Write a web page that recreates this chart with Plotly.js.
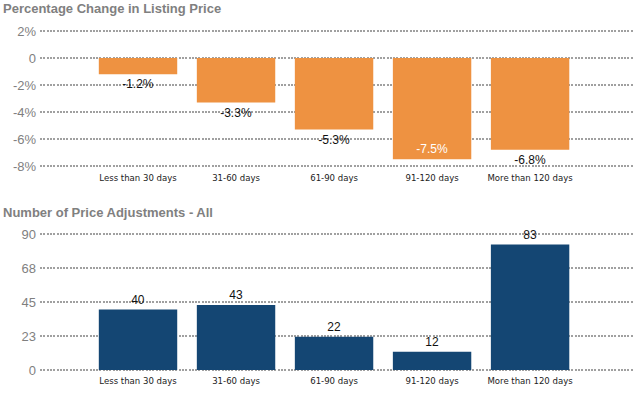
<!DOCTYPE html>
<html><head><meta charset="utf-8">
<script src="https://cdn.plot.ly/plotly-3.0.1.min.js"></script>
<style>html,body{margin:0;padding:0;background:#fff}#c{width:633px;height:400px}</style>
</head><body><div id="c"></div>
<script>
const categories = ["Less than 30 days","31-60 days","61-90 days","91-120 days","More than 120 days"];
const pctChange = [-1.2, -3.3, -5.3, -7.5, -6.8];
const pctLabels = ["-1.2%","-3.3%","-5.3%","-7.5%","-6.8%"];
const adjustments = [40, 43, 22, 12, 83];
const pctTickVals = [2, 0, -2, -4, -6, -8];
const pctTickText = ["2%","0","-2%","-4%","-6%","-8%"];
const cntTickVals = [0, 22.5, 45, 67.5, 90];
const cntTickText = ["0","23","45","68","90"];

const idx = categories.map((c,i)=>i);
const grid = {showgrid:true, gridcolor:'#a0a0a0', griddash:'2px,1.3px', gridwidth:1.5, zeroline:false, showline:false, ticks:'', tickfont:{family:'Liberation Sans, Arial', size:13, color:'#7f7f7f'}};
const xcommon = {tickmode:'array', tickvals:idx, ticktext:categories, range:[-1, 5.05], showgrid:false, zeroline:false, showline:false, ticks:'', tickfont:{family:'DejaVu Sans Condensed, DejaVu Sans', size:9.5, color:'#222'}, fixedrange:true};

const trace1 = {type:'bar', x:idx, y:pctChange, text:pctLabels, texttemplate:'%{text}',
  textposition:['outside','outside','outside','inside','outside'],
  insidetextanchor:'end',
  textfont:{family:'Liberation Sans, Arial', size:12, color:['#111','#111','#111','#fff','#111']},
  marker:{color:'#EE9241'}, cliponaxis:false, xaxis:'x', yaxis:'y', hoverinfo:'none'};
const trace2 = {type:'bar', x:idx, y:adjustments, text:adjustments.map(String), texttemplate:'%{text}',
  textposition:'outside', textfont:{family:'Liberation Sans, Arial', size:12, color:'#111'},
  marker:{color:'#144673'}, cliponaxis:false, xaxis:'x2', yaxis:'y2', hoverinfo:'none'};

const layout = {
  width:633, height:400, margin:{l:40, r:0, t:0, b:0}, paper_bgcolor:'#fff', plot_bgcolor:'rgba(0,0,0,0)',
  showlegend:false, bargap:0.2,
  xaxis:Object.assign({}, xcommon, {anchor:'y', domain:[0,1], ticklabelstandoff:0}),
  yaxis:Object.assign({}, grid, {anchor:'x', domain:[0.5749, 0.9326], range:[-8.3, 2.3], tickmode:'array', tickvals:pctTickVals, ticktext:pctTickText, ticklabelstandoff:3}),
  xaxis2:Object.assign({}, xcommon, {anchor:'y2', domain:[0,1], ticklabelstandoff:0}),
  yaxis2:Object.assign({}, grid, {anchor:'x2', domain:[0.06745, 0.42255], range:[-2, 92], tickmode:'array', tickvals:cntTickVals, ticktext:cntTickText, ticklabelstandoff:3}),
  annotations:[
    {text:'<b>Percentage Change in Listing Price</b>', xref:'paper', yref:'paper', x:-0.066, y:0.9775, xanchor:'left', yanchor:'middle', showarrow:false, font:{family:'Liberation Sans, Arial', size:13, color:'#808080'}},
    {text:'<b>Number of Price Adjustments - All</b>', xref:'paper', yref:'paper', x:-0.066, y:0.47, xanchor:'left', yanchor:'middle', showarrow:false, font:{family:'Liberation Sans, Arial', size:13, color:'#808080'}}
  ]
};
Plotly.newPlot('c', [trace1, trace2], layout, {displayModeBar:false, staticPlot:true});
</script></body></html>
